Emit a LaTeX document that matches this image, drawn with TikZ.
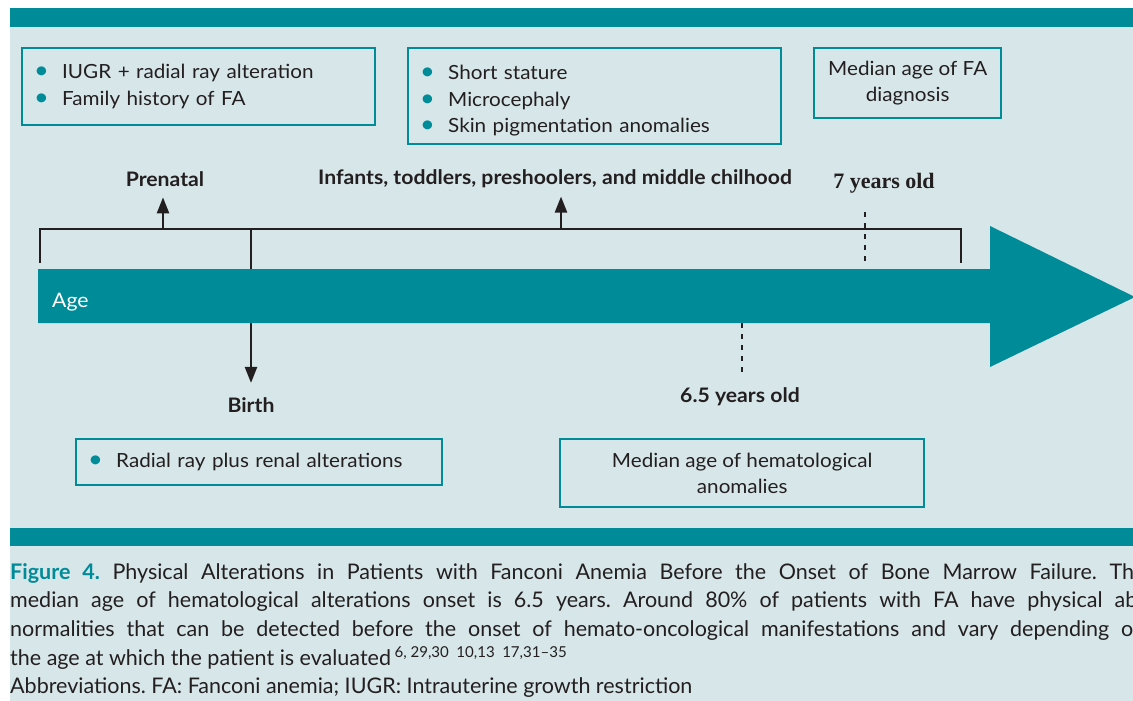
\documentclass[tikz,border=0pt]{standalone}
\usepackage{fontspec}
\setmainfont{Lato}[FakeStretch=1.06]
\newfontfamily\capfont{Lato}
\newfontfamily\yearfont{Liberation Serif}
\usetikzlibrary{arrows.meta, positioning}
\definecolor{fateal}{HTML}{008B99}
\definecolor{fapale}{HTML}{D7E6E9}
\definecolor{fatext}{HTML}{231F20}
\tikzset{infobox/.style={draw=fateal, line width=2.4pt, text=fatext, inner ysep=0pt, font=\fontsize{19.5}{26.5}\selectfont}}
\tikzset{listbox/.style={infobox, anchor=north west, align=left, inner xsep=12pt}}
\tikzset{notebox/.style={infobox, anchor=north west, align=center, inner xsep=0pt}}
\tikzset{stage/.style={text=fatext, inner sep=0pt, anchor=base, font=\fontsize{20}{23}\selectfont\bfseries}}
\tikzset{bracket/.style={draw=fatext, line width=2.4pt}}
\tikzset{pointer/.style={bracket, -{Triangle[width=12pt,length=16pt]}}}
\tikzset{agemark/.style={bracket, dash pattern=on 5pt off 6pt}}
\tikzset{capline/.style={anchor=base west, inner sep=0pt, text=fatext, font=\capfont\fontsize{21.5}{24}\selectfont\frenchspacing}}
\newcommand{\bul}{\makebox[28pt][l]{\textcolor{fateal}{\fontsize{24}{0}\selectfont•}}}
\newcommand{\capjust}[1]{\makebox[1135pt][s]{#1}}

\begin{document}
\begin{tikzpicture}[x=1pt, y=-1pt]
    \useasboundingbox (0,0) rectangle (1133,701);
    \clip (0,0) rectangle (1133,701);

    % panel and bars
    \fill [fapale] (10,8) rectangle (1133,701);
    \fill [fateal] (10,8) rectangle (1133,27);
    \fill [fateal] (10,528) rectangle (1133,546);

    % finding boxes
    \node [listbox, text width=329pt, minimum height=77pt] (prebox) at (21,47)
        {\bul IUGR + radial ray alteration\\ \bul Family history of FA};
    \node [listbox, text width=349pt, minimum height=96pt] (childbox) at (407,47)
        {\rule{0pt}{24pt}\bul Short stature\\ \bul Microcephaly\\ \bul Skin pigmentation anomalies};
    \node [notebox, minimum width=187pt, minimum height=70pt] (diagbox) at (813,47)
        {Median age of FA\\ diagnosis};
    \node [listbox, text width=342pt, minimum height=46pt] (birthbox) at (75,438)
        {\bul Radial ray plus renal alterations};
    \node [notebox, minimum width=364pt, minimum height=68pt] (hemabox) at (559,438)
        {Median age of hematological\\ anomalies};

    % stage labels
    \node [stage] (prenatal) at (165,186) {Prenatal};
    \node [stage] (infants) at (555,184) {Infants, toddlers, preshoolers, and middle chilhood};
    \node [stage, font=\fontsize{22}{24}\selectfont\yearfont\bfseries] (seven) at (884,188) {7 years old};
    \node [stage] (birth) at (251,412) {Birth};
    \node [stage] (sixhalf) at (740,402) {6.5 years old};

    % bracket over the age bar
    \coordinate (bl) at (40,263);
    \coordinate (tl) at (40,229);
    \coordinate (tr) at (961,229);
    \coordinate (br) at (961,263);
    \coordinate (pre) at (163,229);
    \coordinate (inf) at (561,229);
    \coordinate (bir) at (251,229);
    \coordinate (sevtop) at (865,212);
    \coordinate (sevbot) at (865,263);
    \coordinate (sixtop) at (742,323);
    \coordinate (sixbot) at (742,375);

    \draw [bracket, line join=miter] (bl) -- (tl) -- (tr) -- (br);
    \draw [pointer, shorten >=11pt] (pre) -- (pre |- prenatal.south);
    \draw [pointer, shorten >=9pt] (inf) -- (inf |- infants.south);
    \draw [pointer, shorten >=14pt] (bir) -- (birth.north);
    \draw [agemark] (sevtop) -- (sevbot);

    % age arrow
    \fill [fateal] (38,269) -- (990,269) -- (990,226) -- (1135,297) -- (990,367)
        -- (990,323) -- (38,323) -- cycle;
    \node [anchor=base west, inner sep=0pt, text=white, font=\fontsize{20}{24}\selectfont] (age) at (52,307) {Age};

    \draw [agemark] (sixtop) -- (sixbot);

    % caption
    \node [capline] (cap1) at (10,579) {\capjust{\textcolor{fateal}{\bfseries Figure 4.} Physical Alterations in Patients with Fanconi Anemia Before the Onset of Bone Marrow Failure. The}};
    \node [capline] (cap2) at (10,607) {\capjust{median age of hematological alterations onset is 6.5 years. Around 80\% of patients with FA have physical ab-}};
    \node [capline] (cap3) at (10,636) {\capjust{normalities that can be detected before the onset of hemato-oncological manifestations and vary depending on}};
    \node [capline] (cap4) at (10,665) {the age at which the patient is evaluated\,\textsuperscript{6, 29,30\enspace 10,13\enspace 17,31–35}};
    \node [capline] (cap5) at (10,693) {Abbreviations. FA: Fanconi anemia; IUGR: Intrauterine growth restriction};
\end{tikzpicture}
\end{document}
